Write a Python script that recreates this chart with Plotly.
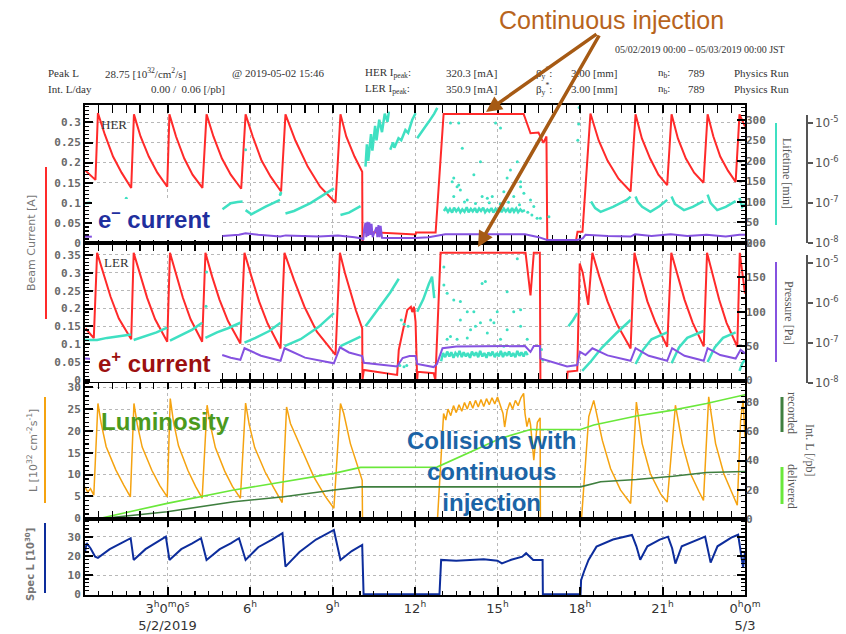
import plotly.graph_objects as go

# ---------------- data (time in hours from 2019-05-02 00:00 JST) ----------------
her_current = [
    (0.02, 0.18), (0.38, 0.157), (0.47, 0.323), (0.72, 0.27), (1.02, 0.215), (1.33, 0.175), (1.68, 0.137),
    (1.78, 0.32), (2.02, 0.265), (2.32, 0.215), (2.63, 0.175), (2.99, 0.14),
    (3.07, 0.32), (3.31, 0.265), (3.61, 0.21), (3.91, 0.17), (4.27, 0.137),
    (4.42, 0.32), (4.67, 0.265), (4.98, 0.21), (5.30, 0.17), (5.68, 0.135),
    (5.84, 0.32), (6.10, 0.265), (6.42, 0.205), (6.75, 0.165), (7.13, 0.128),
    (7.29, 0.32), (7.65, 0.255), (8.10, 0.19), (8.55, 0.14), (9.11, 0.10),
    (9.29, 0.32), (9.50, 0.265), (9.80, 0.215), (10.08, 0.177), (10.09, 0.0),
    (10.13, 0.028), (12.02, 0.021), (12.04, 0.026), (12.75, 0.026), (13.04, 0.321), (15.95, 0.321),
    (16.20, 0.273), (16.49, 0.275), (16.67, 0.249), (16.78, 0.265), (16.81, 0.0),
    (17.84, 0.0), (17.91, 0.028), (18.09, 0.028), (18.38, 0.322), (18.68, 0.255), (19.0, 0.205), (19.4, 0.16), (19.84, 0.128),
    (20.02, 0.32), (20.25, 0.26), (20.55, 0.21), (20.85, 0.17), (21.17, 0.144),
    (21.33, 0.32), (21.56, 0.26), (21.85, 0.21), (22.15, 0.175), (22.49, 0.15),
    (22.64, 0.32), (22.85, 0.265), (23.1, 0.215), (23.38, 0.18), (23.66, 0.152),
    (23.8, 0.32), (24.0, 0.29)]

her_lifetime_lines = [
    [(0.0, 97), (0.2, 98)],
    [(5.0, 82), (5.3, 97), (5.55, 100), (5.73, 101)],
    [(5.84, 80), (6.05, 70), (6.55, 88), (7.09, 105)],
    [(7.29, 72), (7.6, 78), (8.2, 97), (8.7, 117), (9.05, 133)],
    [(9.29, 68), (9.6, 74), (10.02, 90)],
    [(10.2, 186), (10.25, 240), (10.3, 200), (10.4, 265), (10.45, 225), (10.55, 285), (10.6, 250),
     (10.7, 300), (10.8, 270), (10.9, 315), (11.0, 295), (11.05, 320)],
    [(11.1, 227), (11.2, 245), (11.25, 232), (11.4, 255), (11.5, 250), (11.65, 275), (11.75, 268),
     (11.9, 300), (12.02, 316)],
    [(12.08, 255), (12.3, 275), (12.5, 295), (12.7, 315), (12.81, 329)],
    [(13.05, 78), (13.12, 85), (13.2, 76), (13.27, 83), (13.35, 74), (13.42, 86), (13.5, 77), (13.58, 84),
     (13.65, 75), (13.72, 82), (13.8, 76), (13.88, 87), (13.95, 75), (14.03, 83), (14.1, 77), (14.18, 85),
     (14.25, 74), (14.33, 84), (14.4, 78), (14.48, 86), (14.55, 75), (14.63, 82), (14.7, 77), (14.78, 85),
     (14.85, 74), (14.93, 83), (15.0, 76), (15.08, 86), (15.15, 75), (15.23, 84), (15.3, 77), (15.38, 83),
     (15.45, 74), (15.53, 85), (15.6, 76), (15.68, 84), (15.75, 75), (15.83, 82), (15.9, 77), (16.0, 80)],
    [(18.4, 101), (18.55, 85), (18.75, 76), (19.2, 88), (19.7, 105), (19.84, 113)],
    [(20.02, 113), (20.1, 100), (20.26, 88), (20.56, 76), (20.9, 90), (21.17, 105)],
    [(21.33, 113), (21.45, 95), (21.78, 80), (22.1, 88), (22.49, 102)],
    [(22.64, 118), (22.75, 97), (22.99, 80), (23.3, 88), (23.66, 102)],
    [(23.8, 110), (23.9, 88), (24.0, 95)]]

her_lifetime_dots = [
    (1.5, 109), (5.84, 227), (7.1, 118), (7.12, 122), (13.29, 292), (13.59, 292), (13.72, 231),
    (13.35, 149), (13.53, 137), (13.65, 129), (13.41, 113), (13.9, 105), (14.14, 166), (14.38, 198),
    (14.44, 113), (14.63, 109), (14.81, 113), (14.93, 292), (15.11, 280), (15.35, 158), (15.47, 178),
    (15.72, 198), (15.84, 137), (15.96, 121), (16.2, 105), (16.32, 89), (16.56, 60), (16.87, 64),
    (15.59, 113), (15.23, 125), (13.8, 100), (14.2, 96), (14.7, 98), (15.1, 95), (15.4, 99),
    (15.8, 93), (16.1, 75), (16.25, 68), (16.44, 60), (17.92, 250), (17.95, 290), (17.97, 330),
    (13.41, 158), (13.59, 141), (15.84, 149)]

her_pressure = [
    [(0.0, 1.44e-8), (0.25, 1.44e-8)],
    [(5.0, 1.5e-8), (5.6, 1.6e-8), (5.84, 1.75e-8), (6.3, 1.6e-8), (7.1, 1.45e-8), (7.3, 1.55e-8),
     (8.5, 1.45e-8), (9.2, 1.55e-8), (9.8, 1.4e-8), (10.08, 1.3e-8), (10.12, 1.2e-8), (10.15, 2.2e-8),
     (10.2, 3.2e-8), (10.23, 1.4e-8), (10.27, 3.4e-8), (10.3, 1.5e-8), (10.34, 3.3e-8), (10.38, 1.6e-8),
     (10.42, 3.0e-8), (10.46, 1.4e-8), (10.6, 2.5e-8), (10.63, 1.4e-8), (10.67, 2.8e-8), (10.71, 1.4e-8),
     (10.75, 2.7e-8), (10.8, 1.35e-8), (11.0, 1.33e-8), (12.0, 1.33e-8), (12.5, 1.4e-8), (13.1, 1.65e-8),
     (16.0, 1.65e-8), (16.5, 1.4e-8), (16.8, 1.19e-8), (17.9, 1.19e-8), (18.1, 1.3e-8), (18.2, 1.6e-8),
     (19.0, 1.5e-8), (19.84, 1.45e-8), (20.0, 1.65e-8), (20.6, 1.5e-8), (21.3, 1.65e-8), (21.9, 1.5e-8),
     (22.6, 1.6e-8), (23.3, 1.45e-8), (23.8, 1.6e-8), (24.0, 1.6e-8)]]

ler_current = [
    (0.02, 0.144), (0.32, 0.117), (0.44, 0.356), (0.68, 0.298), (0.93, 0.233), (1.23, 0.172), (1.68, 0.114),
    (1.77, 0.356), (2.0, 0.295), (2.26, 0.23), (2.55, 0.17), (2.99, 0.107),
    (3.09, 0.356), (3.31, 0.295), (3.56, 0.23), (3.84, 0.17), (4.26, 0.107),
    (4.38, 0.356), (4.62, 0.29), (4.89, 0.225), (5.2, 0.165), (5.65, 0.102),
    (5.80, 0.356), (6.05, 0.29), (6.33, 0.22), (6.64, 0.158), (7.11, 0.088),
    (7.255, 0.356), (7.6, 0.28), (7.98, 0.205), (8.43, 0.135), (9.11, 0.07),
    (9.27, 0.356), (9.45, 0.3), (9.65, 0.245), (9.85, 0.195), (10.08, 0.144), (10.09, 0.0),
    (10.14, 0.028), (11.35, 0.014), (11.41, 0.084), (11.72, 0.196), (11.85, 0.205), (11.9, 0.19),
    (11.96, 0.205), (12.02, 0.163), (12.08, 0.0),
    (12.1, 0.023), (12.68, 0.019), (12.74, 0.0), (12.93, 0.356), (16.02, 0.356), (16.2, 0.237),
    (16.32, 0.356), (16.54, 0.356), (16.56, 0.0),
    (17.53, 0.0), (17.55, 0.023), (17.9, 0.026), (17.99, 0.326), (18.1, 0.3), (18.3, 0.21), (18.45, 0.356),
    (18.7, 0.29), (19.0, 0.22), (19.35, 0.155), (19.84, 0.088),
    (19.98, 0.356), (20.2, 0.29), (20.45, 0.22), (20.75, 0.16), (21.17, 0.093),
    (21.32, 0.356), (21.55, 0.29), (21.8, 0.225), (22.1, 0.16), (22.5, 0.094),
    (22.62, 0.356), (22.83, 0.29), (23.06, 0.225), (23.33, 0.16), (23.72, 0.093),
    (23.81, 0.356), (24.0, 0.242)]

ler_lifetime_lines = [
    [(0.0, 59), (0.44, 59), (0.8, 62), (1.2, 64), (1.68, 67)],
    [(1.77, 59), (2.2, 65), (2.6, 70), (2.99, 77)],
    [(3.09, 58), (3.5, 66), (3.9, 74), (4.26, 84)],
    [(4.38, 62), (4.8, 70), (5.2, 76), (5.65, 84)],
    [(5.8, 55), (6.2, 62), (6.7, 72), (7.11, 84)],
    [(7.255, 50), (7.84, 60), (8.5, 78), (9.05, 98)],
    [(9.29, 50), (9.6, 56), (10.02, 64)],
    [(10.2, 79), (10.5, 95), (10.8, 112), (11.1, 128), (11.41, 148)],
    [(12.08, 100), (12.3, 118), (12.5, 140), (12.62, 151), (12.7, 120)],
    [(12.95, 28), (13.02, 40), (13.1, 34), (13.17, 42), (13.25, 35), (13.32, 41), (13.4, 33), (13.47, 40),
     (13.55, 36), (13.62, 43), (13.7, 34), (13.77, 41), (13.85, 35), (13.92, 40), (14.0, 33), (14.07, 42),
     (14.15, 36), (14.22, 41), (14.3, 34), (14.37, 43), (14.45, 35), (14.52, 40), (14.6, 33), (14.67, 41),
     (14.75, 36), (14.82, 42), (14.9, 34), (14.97, 40), (15.05, 35), (15.12, 43), (15.2, 34), (15.27, 41),
     (15.35, 36), (15.42, 42), (15.5, 35), (15.57, 40), (15.65, 34), (15.72, 43), (15.8, 36), (15.87, 41),
     (15.95, 35), (16.02, 42), (16.1, 37)],
    [(17.58, 79), (17.75, 88), (17.9, 98)],
    [(18.08, 14), (18.4, 28), (18.8, 48), (19.3, 68), (19.84, 88)],
    [(20.02, 24), (20.3, 45), (20.6, 60), (21.17, 70)],
    [(21.33, 25), (21.6, 48), (21.9, 62), (22.49, 72)],
    [(22.64, 27), (22.9, 48), (23.2, 62), (23.66, 70)],
    [(23.8, 14), (23.9, 25), (24.0, 30)]]

ler_lifetime_dots = [
    (4.42, 158), (4.40, 108), (11.5, 88), (11.6, 82), (11.75, 79), (11.45, 22), (11.6, 20), (11.7, 22),
    (13.05, 165), (13.05, 139), (13.17, 127), (13.41, 117), (13.65, 115), (13.9, 100), (14.14, 100),
    (14.44, 141), (14.56, 144), (14.2, 79), (14.38, 84), (14.63, 69), (14.87, 84), (15.11, 60),
    (15.35, 129), (15.72, 177), (15.84, 103), (15.59, 100), (13.53, 60), (13.9, 62), (13.17, 60),
    (13.29, 64), (15.23, 50), (16.08, 60), (13.65, 88), (14.02, 74), (14.75, 88), (14.99, 100),
    (15.35, 74), (15.84, 79), (16.6, 45), (16.65, 30)]

ler_pressure = [
    [(0.0, 4.1e-8), (0.25, 4.0e-8)],
    [(4.99, 5.0e-8), (5.3, 4.3e-8), (5.65, 3.8e-8), (5.8, 7.4e-8), (6.4, 4.8e-8), (7.11, 3.6e-8),
     (7.255, 7.4e-8), (8.0, 4.3e-8), (9.05, 3.1e-8), (9.27, 7.8e-8), (9.6, 5.8e-8), (10.08, 4.7e-8),
     (10.14, 3.2e-8), (11.35, 2.6e-8), (11.55, 4.2e-8), (11.8, 4.7e-8), (12.02, 4.7e-8), (12.08, 3.0e-8),
     (12.68, 2.5e-8), (12.8, 3.0e-8), (13.0, 7.4e-8), (13.5, 8.2e-8), (16.0, 8.4e-8), (16.2, 6.0e-8),
     (16.32, 8.4e-8), (16.54, 8.4e-8), (16.56, 4.1e-8), (17.53, 2.6e-8), (17.9, 2.8e-8), (18.0, 6.0e-8),
     (18.2, 5.0e-8), (18.45, 7.4e-8), (19.0, 4.9e-8), (19.84, 3.6e-8), (20.02, 7.4e-8), (20.5, 4.8e-8),
     (21.17, 3.6e-8), (21.35, 7.4e-8), (21.8, 4.8e-8), (22.5, 3.6e-8), (22.64, 7.4e-8), (23.1, 5.0e-8),
     (23.66, 4.1e-8), (23.84, 6.8e-8), (24.0, 5.5e-8)]]

luminosity = [
    (0.0, 7.2), (0.1, 6.0), (0.2, 6.8), (0.32, 5.3), (0.47, 26.3), (0.59, 21.7), (0.77, 16.4), (1.12, 11.1), (1.41, 7.6), (1.65, 4.9),
    (1.78, 26.3), (1.9, 21.5), (2.08, 16.3), (2.43, 11.0), (2.72, 7.5), (2.99, 4.9),
    (3.1, 27.4), (3.22, 22.0), (3.4, 16.6), (3.74, 11.0), (4.02, 7.3), (4.26, 4.6),
    (4.44, 25.9), (4.56, 21.3), (4.74, 16.2), (5.08, 10.8), (5.36, 7.3), (5.65, 4.6),
    (5.84, 26.4), (5.97, 21.5), (6.17, 16.2), (6.55, 10.6), (6.88, 6.8), (7.17, 3.6),
    (7.33, 25.5), (7.47, 21.7), (7.84, 16.4), (8.32, 9.5), (8.75, 4.9), (9.05, 2.3),
    (9.29, 26.3), (9.41, 24.0), (9.65, 17.1), (9.9, 12.5), (10.08, 8.7), (10.09, 0.0),
    (12.82, 0.0), (13.04, 24.0), (13.12, 22.5), (13.2, 25.0), (13.3, 23.5), (13.4, 25.8), (13.5, 24.2),
    (13.6, 26.0), (13.7, 24.5), (13.8, 26.5), (13.9, 25.0), (14.0, 26.8), (14.1, 25.2), (14.2, 27.0),
    (14.3, 25.5), (14.4, 27.2), (14.5, 25.6), (14.6, 27.4), (14.7, 26.0), (14.8, 27.6), (14.9, 26.2),
    (15.0, 27.8), (15.1, 26.0), (15.2, 24.0), (15.26, 20.9), (15.35, 24.6), (15.45, 26.5), (15.55, 25.0),
    (15.65, 27.0), (15.75, 25.8), (15.85, 27.6), (15.95, 28.6), (16.0, 24.0), (16.07, 21.0), (16.15, 23.0),
    (16.2, 21.5), (16.32, 13.3), (16.4, 20.0), (16.45, 22.0), (16.55, 23.0), (16.56, 0.0),
    (18.0, 0.0), (18.06, 0.3), (18.32, 23.3), (18.45, 26.3), (18.5, 27.0), (18.81, 17.9), (19.11, 11.4), (19.47, 6.5), (19.84, 3.4),
    (20.05, 26.6), (20.26, 17.1), (20.56, 10.2), (20.93, 5.6), (21.17, 3.7),
    (21.47, 25.9), (21.72, 17.1), (22.02, 10.2), (22.32, 6.2), (22.49, 4.1),
    (22.68, 27.8), (22.93, 17.1), (23.23, 10.2), (23.53, 5.6), (23.72, 3.0),
    (23.84, 22.4), (23.93, 27.0), (24.0, 18.6)]

int_l_delivered = [(0.44, 0), (2.99, 10.7), (5.41, 19.8), (7.23, 25.5), (9.05, 31.2), (10.02, 35.3),
                   (12.8, 35.5), (15.1, 55.1), (16.2, 61.2), (18.02, 61.2), (18.5, 64.3), (20.05, 70.4),
                   (21.38, 74.5), (22.6, 79.0), (23.92, 84.6), (24.0, 85.0)]
int_l_recorded = [(0.44, 0), (2.99, 5.0), (5.41, 11.8), (7.23, 15.2), (9.05, 19.8), (10.02, 22.0),
                  (18.02, 22.0), (18.75, 25.5), (20.05, 27.0), (21.38, 29.2), (22.6, 31.8),
                  (23.92, 32.5), (24.0, 32.5)]

spec_l = [
    (0.0, 22.0), (0.06, 26.6), (0.2, 24.0), (0.37, 19.6), (0.47, 19.0), (0.9, 23.5), (1.3, 26.5), (1.66, 29.2),
    (1.77, 17.9), (2.2, 23.5), (2.6, 27.0), (2.94, 30.0),
    (3.07, 17.9), (3.5, 23.5), (3.9, 26.5), (4.22, 29.2),
    (4.42, 17.9), (4.9, 23.5), (5.3, 26.5), (5.6, 29.2),
    (5.84, 17.9), (6.3, 24.5), (6.8, 28.5), (7.18, 31.8),
    (7.29, 14.4), (7.8, 22.0), (8.4, 28.5), (9.05, 33.5),
    (9.29, 17.9), (9.7, 22.5), (10.08, 25.7), (10.13, 0.0),
    (12.89, 0.0), (12.95, 17.9), (13.5, 17.5), (14.0, 17.9), (14.5, 18.2), (15.0, 17.5), (15.16, 16.1),
    (15.5, 18.0), (15.9, 19.6), (16.04, 21.4), (16.3, 17.9), (16.64, 17.9), (16.65, 0.0),
    (18.02, 0.0), (18.04, 7.4), (18.15, 12.0), (18.31, 17.9), (18.6, 24.8), (19.2, 28.5), (19.89, 30.9),
    (20.05, 25.0), (20.19, 18.0), (20.45, 25.0), (20.9, 28.5), (21.2, 30.0),
    (21.35, 24.0), (21.47, 16.0), (21.7, 25.0), (22.3, 28.5), (22.55, 30.0),
    (22.64, 24.0), (22.75, 16.5), (23.0, 25.0), (23.5, 29.5), (23.75, 31.0),
    (23.93, 14.0), (24.0, 22.0)]

x_tick_hours = [0, 3, 6, 9, 12, 15, 18, 21, 24]
x_tick_text = ["", "3<sup>h</sup>0<sup>m</sup>0<sup>s</sup><br>5/2/2019", "6<sup>h</sup>", "9<sup>h</sup>",
               "12<sup>h</sup>", "15<sup>h</sup>", "18<sup>h</sup>", "21<sup>h</sup>",
               "0<sup>h</sup>0<sup>m</sup><br>5/3"]
log_tick_vals = [1e-8, 1e-7, 1e-6, 1e-5]
log_tick_text = ["10<sup>-8</sup>", "10<sup>-7</sup>", "10<sup>-6</sup>", "10<sup>-5</sup>"]

header_line1 = [("Peak L", 46), ("28.75 [10<sup>32</sup>/cm<sup>2</sup>/s]", 103), ("@ 2019-05-02 15:46", 230),
                ("HER I<sub>peak</sub>:", 363), ("320.3 [mA]", 444), ("β<sub>y</sub><sup>*</sup>:", 534),
                ("3.00 [mm]", 569), ("n<sub>b</sub>:", 656), ("789", 686), ("Physics Run", 732)]
header_line2 = [("Int. L/day", 46), ("0.00 /  0.06 [/pb]", 149),
                ("LER I<sub>peak</sub>:", 363), ("350.9 [mA]", 444), ("β<sub>y</sub><sup>*</sup>:", 534),
                ("3.00 [mm]", 569), ("n<sub>b</sub>:", 656), ("789", 686), ("Physics Run", 732)]

# ---------------- helpers ----------------
W, H = 846, 634
def px(x): return x / W
def py(y): return 1 - y / H

def xy(pairs):
    return [p[0] for p in pairs], [p[1] for p in pairs]

def segs(list_of_pairs):
    xs, ys = [], []
    for seg in list_of_pairs:
        a, b = xy(seg)
        xs += a + [None]
        ys += b + [None]
    return xs, ys

RED = "#ff2a2a"
CYAN = "#3fe0c2"
PURPLE = "#8552e0"
ORANGE = "#f5a310"
LGREEN = "#6ae83a"
DGREEN = "#3f7f3f"
BLUE = "#0d2d9c"

XD = [px(85), px(745)]
D_HER = [py(243), py(105)]
D_LER = [py(381), py(243)]
D_LUM = [py(519), py(381)]
D_SPEC = [py(595), py(519)]
D_HER_LOG = [py(243), py(115)]
D_LER_LOG = [py(383), py(255)]

fig = go.Figure()

def line(pairs, xa, ya, color, width, name):
    x, y = xy(pairs)
    fig.add_trace(go.Scatter(x=x, y=y, xaxis=xa, yaxis=ya, mode="lines", name=name,
                             line=dict(color=color, width=width), showlegend=False))

def seglines(lst, xa, ya, color, width, name):
    x, y = segs(lst)
    fig.add_trace(go.Scatter(x=x, y=y, xaxis=xa, yaxis=ya, mode="lines", name=name, connectgaps=False,
                             line=dict(color=color, width=width), showlegend=False))

def dots(pairs, xa, ya, color, size, name):
    x, y = xy(pairs)
    fig.add_trace(go.Scatter(x=x, y=y, xaxis=xa, yaxis=ya, mode="markers", name=name,
                             marker=dict(color=color, size=size), showlegend=False))

# HER panel
seglines(her_lifetime_lines, "x", "y2", CYAN, 2.5, "HER lifetime")
dots(her_lifetime_dots, "x", "y2", CYAN, 3, "HER lifetime pts")
seglines(her_pressure, "x5", "y8", PURPLE, 2, "HER pressure")
line(her_current, "x", "y", RED, 2, "HER current")
# LER panel
seglines(ler_lifetime_lines, "x2", "y4", CYAN, 2.5, "LER lifetime")
dots(ler_lifetime_dots, "x2", "y4", CYAN, 3, "LER lifetime pts")
seglines(ler_pressure, "x6", "y9", PURPLE, 2, "LER pressure")
line(ler_current, "x2", "y3", RED, 2, "LER current")
# Luminosity panel
line(int_l_delivered, "x3", "y6", LGREEN, 1.6, "delivered")
line(int_l_recorded, "x3", "y6", DGREEN, 1.6, "recorded")
line(luminosity, "x3", "y5", ORANGE, 1.5, "L")
# Spec L panel
line(spec_l, "x4", "y7", BLUE, 2, "Spec L")

TICKFONT = dict(family="DejaVu Sans Mono", size=11, color="#6a6a6a", weight="bold")
GRID = dict(showgrid=True, gridcolor="#b8b8b8", griddash="dot", gridwidth=1)

def xaxis(anchor, labels=False):
    d = dict(domain=XD, range=[0, 24], anchor=anchor, showline=True, linecolor="black", linewidth=2,
             mirror="allticks", ticks="inside", ticklen=8, tickwidth=2, tickcolor="black",
             tickmode="array", tickvals=x_tick_hours, zeroline=False, automargin=False,
             minor=dict(dtick=0.5, tick0=0, ticks="inside", ticklen=4, tickwidth=1.2, tickcolor="black",
                        showgrid=False),
             showticklabels=labels, **GRID)
    if labels:
        d.update(ticktext=x_tick_text, tickfont=dict(family="DejaVu Sans", size=13, color="#333"))
    return d

def yleft(domain, rng, dtick, minor, anchor):
    return dict(domain=domain, range=rng, dtick=dtick, tick0=0, anchor=anchor, showline=True,
                linecolor="black", linewidth=2, mirror=True, ticks="inside", ticklen=8, tickwidth=2,
                tickcolor="black", zeroline=False, tickfont=TICKFONT, automargin=False,
                minor=dict(dtick=minor, tick0=0, ticks="inside", ticklen=4, tickwidth=1.2,
                           tickcolor="black", showgrid=False), **GRID)

def yright(over, rng, dtick, minor, anchor):
    return dict(overlaying=over, side="right", range=rng, dtick=dtick, tick0=0, anchor=anchor,
                showline=False, ticks="inside", ticklen=8, tickwidth=2, tickcolor="black",
                zeroline=False, showgrid=False, tickfont=TICKFONT, automargin=False,
                minor=dict(dtick=minor, tick0=0, ticks="inside", ticklen=4, tickwidth=1.2,
                           tickcolor="black"))

def ylog(domain, anchor):
    return dict(domain=domain, type="log", range=[-8, -4.8], anchor="free", position=px(806),
                side="right", showline=True, linecolor="#555", linewidth=1.5, ticks="outside",
                ticklen=5, tickwidth=1.5, tickcolor="#555", tickmode="array", tickvals=log_tick_vals,
                ticktext=log_tick_text, showgrid=False, zeroline=False, automargin=False,
                tickfont=dict(family="DejaVu Sans", size=12, color="#555"))

fig.update_layout(
    template="none",
    width=W, height=H, margin=dict(l=0, r=0, t=0, b=0, pad=0, autoexpand=False),
    paper_bgcolor="white", plot_bgcolor="rgba(0,0,0,0)", showlegend=False, hovermode=False,
    xaxis=xaxis("y"), xaxis2=xaxis("y3"), xaxis3=xaxis("y5"), xaxis4=xaxis("y7", labels=True),
    xaxis5=dict(domain=XD, range=[0, 24], anchor="y8", visible=False),
    xaxis6=dict(domain=XD, range=[0, 24], anchor="y9", visible=False),
    yaxis=yleft(D_HER, [0, 0.3433], 0.05, 0.01, "x"),
    yaxis2=yright("y", [0, 336], 50, 10, "x"),
    yaxis3=yleft(D_LER, [-0.003, 0.3835], 0.05, 0.01, "x2"),
    yaxis4=yright("y3", [-0.7, 200], 50, 10, "x2"),
    yaxis5=yleft(D_LUM, [-0.16, 31.44], 5, 1, "x3"),
    yaxis6=yright("y5", [0, 94.4], 20, 4, "x3"),
    yaxis7=dict(yleft(D_SPEC, [-0.36, 39.2], 10, 2, "x4"), mirror="allticks"),
    yaxis8=ylog(D_HER_LOG, "x5"),
    yaxis9=ylog(D_LER_LOG, "x6"),
)

annotations = []
def text(t, x, y, size, color, family, xanchor="left", yanchor="middle", angle=0, bold=False):
    annotations.append(dict(text=t, x=px(x), y=py(y), xref="paper", yref="paper", xanchor=xanchor,
                            yanchor=yanchor, showarrow=False, textangle=angle, align="center",
                            font=dict(size=size, color=color, family=family,
                                      weight="bold" if bold else "normal")))

SERIF = "Liberation Serif"
for t, x in header_line1:
    text(t, x, 73, 11, "#333", SERIF)
for t, x in header_line2:
    text(t, x, 89, 11, "#333", SERIF)
text("05/02/2019 00:00 – 05/03/2019 00:00 JST", 613, 50, 10, "#333", SERIF)
text("HER", 99, 124, 13, "#333", SERIF)
text("LER", 102, 262, 13, "#333", SERIF)

# axis titles
text("Beam Current [A]", 31, 243, 11, "#777", "DejaVu Sans", "center", angle=-90)
text("L [10<sup>32</sup> cm<sup>-2</sup>s<sup>-1</sup>]", 32, 451, 11, "#777", "DejaVu Sans", "center", angle=-90)
text("Spec L [10<sup>30</sup>]", 30, 565, 10, "#777", "DejaVu Sans", "center", angle=-90, bold=True)
text("Lifetime [min]", 787, 173, 12, "#555", SERIF, "center", angle=90)
text("Pressure [Pa]", 789, 313, 12, "#555", SERIF, "center", angle=90)
text("recorded", 792, 413, 12, "#555", SERIF, "center", angle=90)
text("delivered", 792, 486, 12, "#555", SERIF, "center", angle=90)
text("Int. L [/pb]", 810, 450, 12, "#555", SERIF, "center", angle=90)

# call-outs
SANS = "Liberation Sans"
text("e<sup>–</sup> current", 96, 218, 24, "#1f2f9e", SANS, bold=True)
text("e<sup>+</sup> current", 96, 362, 24, "#9c1010", SANS, bold=True)
text("Luminosity", 99, 421, 24, "#4b9a1c", SANS, bold=True)
text("Collisions with<br>continuous<br>injection", 492, 471, 24, "#1b64a6", SANS, "center", bold=True)
text("Continuous injection", 611, 20, 25, "#b8641c", SANS, "center")

BROWN = "#a65a14"
for hx, hy, tx, ty in [(486, 112, 598, 33), (478, 247, 600, 34)]:
    annotations.append(dict(text="", x=px(hx), y=py(hy), xref="paper", yref="paper", showarrow=True,
                            ax=tx - hx, ay=ty - hy, axref="pixel", ayref="pixel", arrowhead=2,
                            arrowsize=0.9, arrowwidth=3.5, arrowcolor=BROWN, standoff=0))

shapes = []
def vline(x, y0, y1, color, width):
    shapes.append(dict(type="line", xref="paper", yref="paper", x0=px(x), x1=px(x), y0=py(y0), y1=py(y1),
                       line=dict(color=color, width=width)))
def box(x0, y0, x1, y1):
    shapes.append(dict(type="rect", xref="paper", yref="paper", x0=px(x0), x1=px(x1), y0=py(y1), y1=py(y0),
                       fillcolor="white", line=dict(width=0), layer="above"))

box(92, 199, 220, 240)
box(90, 343, 220, 382)
vline(46, 167, 319, RED, 2)
vline(45, 397, 503, ORANGE, 2)
vline(45, 523, 593, BLUE, 2)
vline(776, 123, 225, CYAN, 2)
vline(776, 262, 362, PURPLE, 2)
vline(782, 397, 432, DGREEN, 3)
vline(782, 467, 504, LGREEN, 3)

fig.update_layout(annotations=annotations, shapes=shapes)
fig.write_html("out.html", config={"displayModeBar": False, "staticPlot": True},
               post_script="document.body.style.margin='0px';document.body.style.padding='0px';"
                           "document.documentElement.style.overflow='hidden';")
